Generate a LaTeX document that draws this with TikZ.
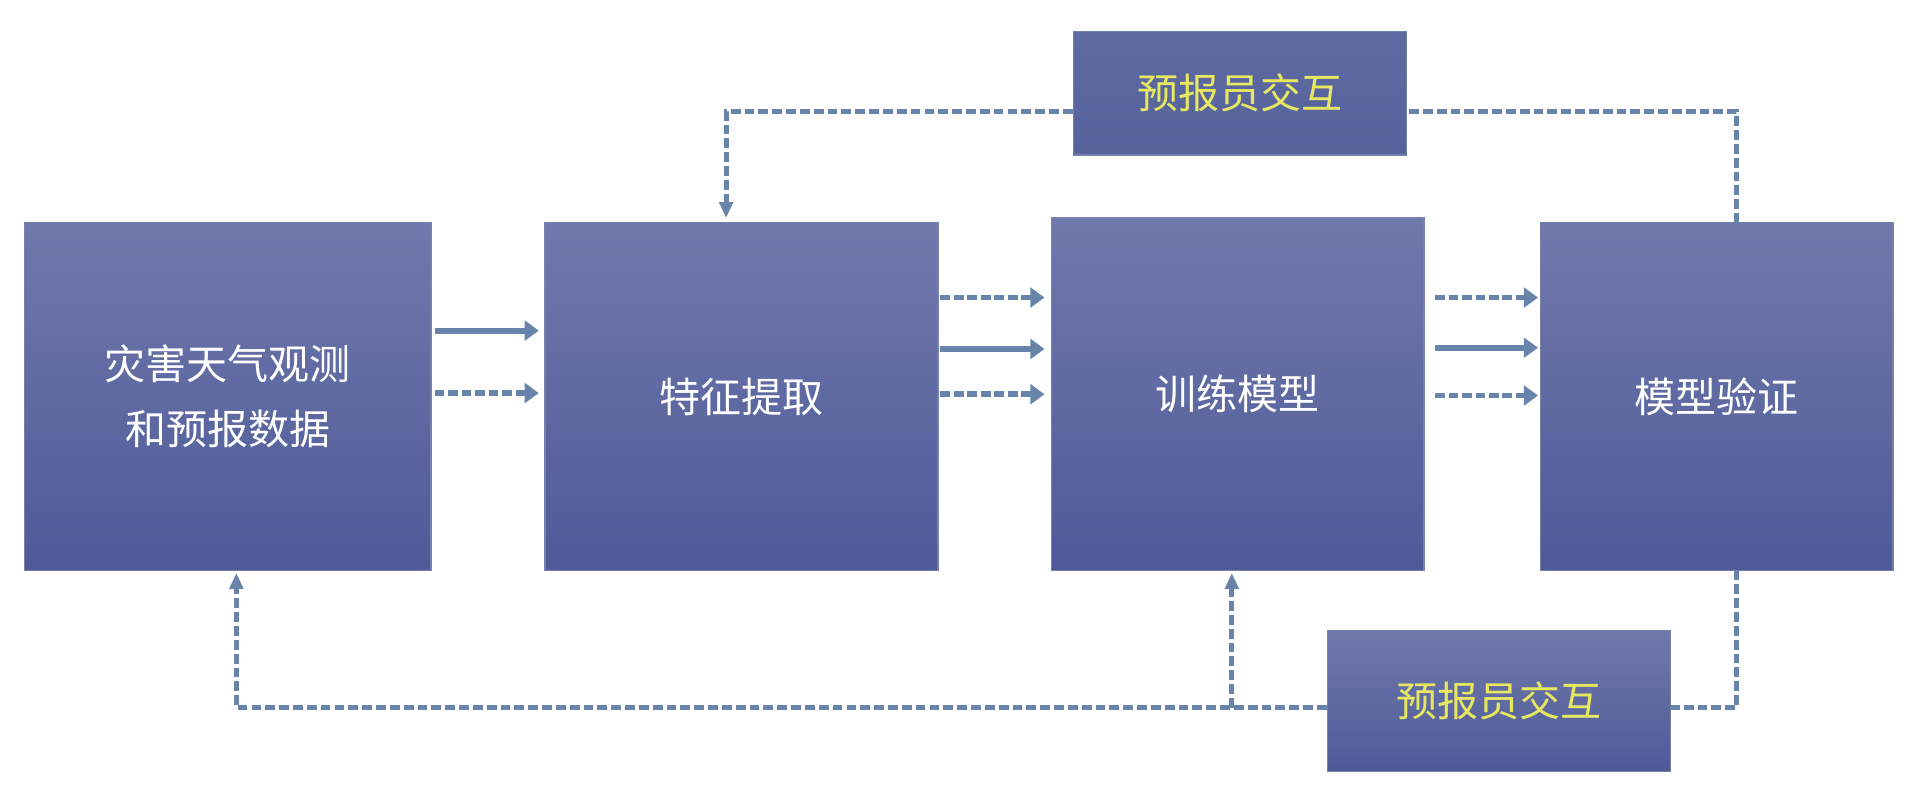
\documentclass[tikz,border=0pt]{standalone}
\usepackage{fontspec}
\newfontfamily\cjk{Noto Sans CJK SC}
\usetikzlibrary{arrows.meta}
\definecolor{boxtop}{RGB}{112,121,172}
\definecolor{boxbot}{RGB}{78,90,152}
\definecolor{flattop}{RGB}{94,106,162}
\definecolor{flatbot}{RGB}{86,98,155}
\definecolor{boxedge}{RGB}{120,128,170}
\definecolor{arr}{RGB}{104,132,170}
\definecolor{ytext}{RGB}{232,232,96}
\tikzset{
  mainbox/.style={draw=boxedge, line width=1pt, top color=boxtop, bottom color=boxbot,
    text=white, align=center, inner sep=0pt, font=\cjk\fontsize{33.5}{53}\selectfont},
  talkbox/.style={mainbox, text=ytext},
  solidarrow/.style={draw=arr, line width=5pt, -{Triangle[length=11.5pt,width=16pt]}},
  dasharrow/.style={draw=arr, line width=4.8pt, dash pattern=on 8pt off 3pt, -{Triangle[length=11.5pt,width=16pt]}},
  loopline/.style={draw=arr, line width=4pt, dash pattern=on 8pt off 3.3pt},
  looparrow/.style={loopline, -{Triangle[length=13pt,width=11pt]}},
}
\begin{document}
\begin{tikzpicture}[x=1pt,y=-1pt]
\useasboundingbox (0,0) rectangle (1568,657.4);
\fill[white] (0,0) rectangle (1568,657.4);
% main boxes
\node[mainbox, minimum width=332pt, minimum height=284pt] (A) at (186,324) {灾害天气观测\\和预报数据};
\node[mainbox, minimum width=321pt, minimum height=284pt] (B) at (605.5,324) {\raisebox{-7pt}{特征提取}};
\node[mainbox, minimum width=304pt, minimum height=288pt] (C) at (1011,322) {\raisebox{-8pt}{训练模型}};
\node[mainbox, minimum width=288pt, minimum height=284pt] (D) at (1402,324) {\raisebox{-7pt}{模型验证}};
% interaction boxes
\node[talkbox, top color=flattop, bottom color=flatbot, minimum width=272pt, minimum height=101pt] (T) at (1012.5,76) {\raisebox{-7pt}{预报员交互}};
\node[talkbox, minimum width=280pt, minimum height=115pt] (U) at (1224,572.5) {\raisebox{-6pt}{预报员交互}};
% coordinates
\coordinate (a1s) at (355,270); \coordinate (a1e) at (440,270);
\coordinate (a2s) at (355,321); \coordinate (a2e) at (440,321);
\coordinate (b1s) at (768,243); \coordinate (b1e) at (853,243);
\coordinate (b2s) at (768,285); \coordinate (b2e) at (853,285);
\coordinate (b3s) at (768,322); \coordinate (b3e) at (853,322);
\coordinate (c1s) at (1172,243); \coordinate (c1e) at (1256,243);
\coordinate (c2s) at (1172,284); \coordinate (c2e) at (1256,284);
\coordinate (c3s) at (1172,323); \coordinate (c3e) at (1256,323);
% forward arrows
\draw[solidarrow] (a1s) -- (a1e);
\draw[dasharrow] (a2s) -- (a2e);
\draw[dasharrow] (b1s) -- (b1e);
\draw[solidarrow] (b2s) -- (b2e);
\draw[dasharrow] (b3s) -- (b3e);
\draw[dasharrow] (c1s) -- (c1e);
\draw[solidarrow] (c2s) -- (c2e);
\draw[dasharrow] (c3s) -- (c3e);
% top feedback loop
\coordinate (td) at (1418,182);
\coordinate (tr) at (1418,91);
\coordinate (tl) at (593,91);
\coordinate (tb) at (593,178);
\draw[loopline] (td) -- (tr) -- (T.east |- tr);
\draw[looparrow] (T.west |- tl) -- (tl) -- (tb);
% bottom feedback loop
\coordinate (bd) at (1418,466);
\coordinate (br) at (1418,578);
\coordinate (bl) at (193,578);
\coordinate (ba) at (193,468);
\coordinate (bm) at (1006,578);
\coordinate (bc) at (1006,468);
\draw[loopline] (bd) -- (br) -- (U.east |- br);
\draw[looparrow] (U.west |- bl) -- (bl) -- (ba);
\draw[looparrow] (bm) -- (bc);
\end{tikzpicture}
\end{document}
